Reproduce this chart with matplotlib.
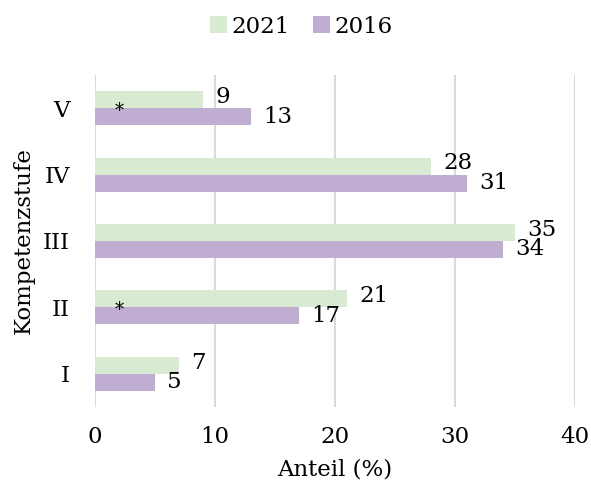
import matplotlib.pyplot as plt
import numpy as np

# Data
levels = ['I', 'II', 'III', 'IV', 'V']
share_2021 = [7, 21, 35, 28, 9]
share_2016 = [5, 17, 34, 31, 13]
# asterisks mark significant changes
significant = [False, True, False, False, True]

plt.rcParams['font.family'] = ['DejaVu Serif']

fig = plt.figure(figsize=(5.91, 4.92), dpi=100)
ax = fig.add_axes([0.1607, 0.1728, 0.8123, 0.6748])

y = np.arange(len(levels))
h = 0.255
green = '#d9ead3'
purple = '#bfaed1'
fs = 16.5

ax.barh(y + h / 2, share_2021, height=h, color=green, label='2021', zorder=2)
ax.barh(y - h / 2, share_2016, height=h, color=purple, label='2016', zorder=2)

for i in range(len(levels)):
    ax.annotate(str(share_2021[i]), (share_2021[i], y[i] + h / 2), xytext=(9, 2),
                textcoords='offset points', va='center', ha='left', fontsize=fs)
    ax.annotate(str(share_2016[i]), (share_2016[i], y[i] - h / 2), xytext=(9, 0),
                textcoords='offset points', va='center', ha='left', fontsize=fs)
    if significant[i]:
        ax.text(2, y[i] - 0.12, '*', ha='center', va='baseline', fontsize=13)

ax.set_xlim(0, 40)
ax.set_ylim(-0.5, 4.5)
ax.set_xticks([0, 10, 20, 30, 40])
ax.set_yticks(y)
ax.set_yticklabels(levels)
ax.tick_params(axis='x', length=0, labelsize=fs, pad=14)
ax.tick_params(axis='y', length=0, labelsize=fs, pad=18)
ax.grid(axis='x', color='#d9d9d9', linewidth=1.5, zorder=0)
ax.set_axisbelow(True)
for s in ax.spines.values():
    s.set_visible(False)

ax.set_xlabel('Anteil (%)', fontsize=fs, labelpad=7)
ax.set_ylabel('Kompetenzstufe', fontsize=fs, labelpad=6)

fig.legend(loc='upper center', bbox_to_anchor=(0.51, 1.01), ncol=2, frameon=False,
           fontsize=fs, handlelength=0.75, handleheight=0.75, handletextpad=0.2,
           columnspacing=1.0)

fig.savefig('out.png', dpi=100)
